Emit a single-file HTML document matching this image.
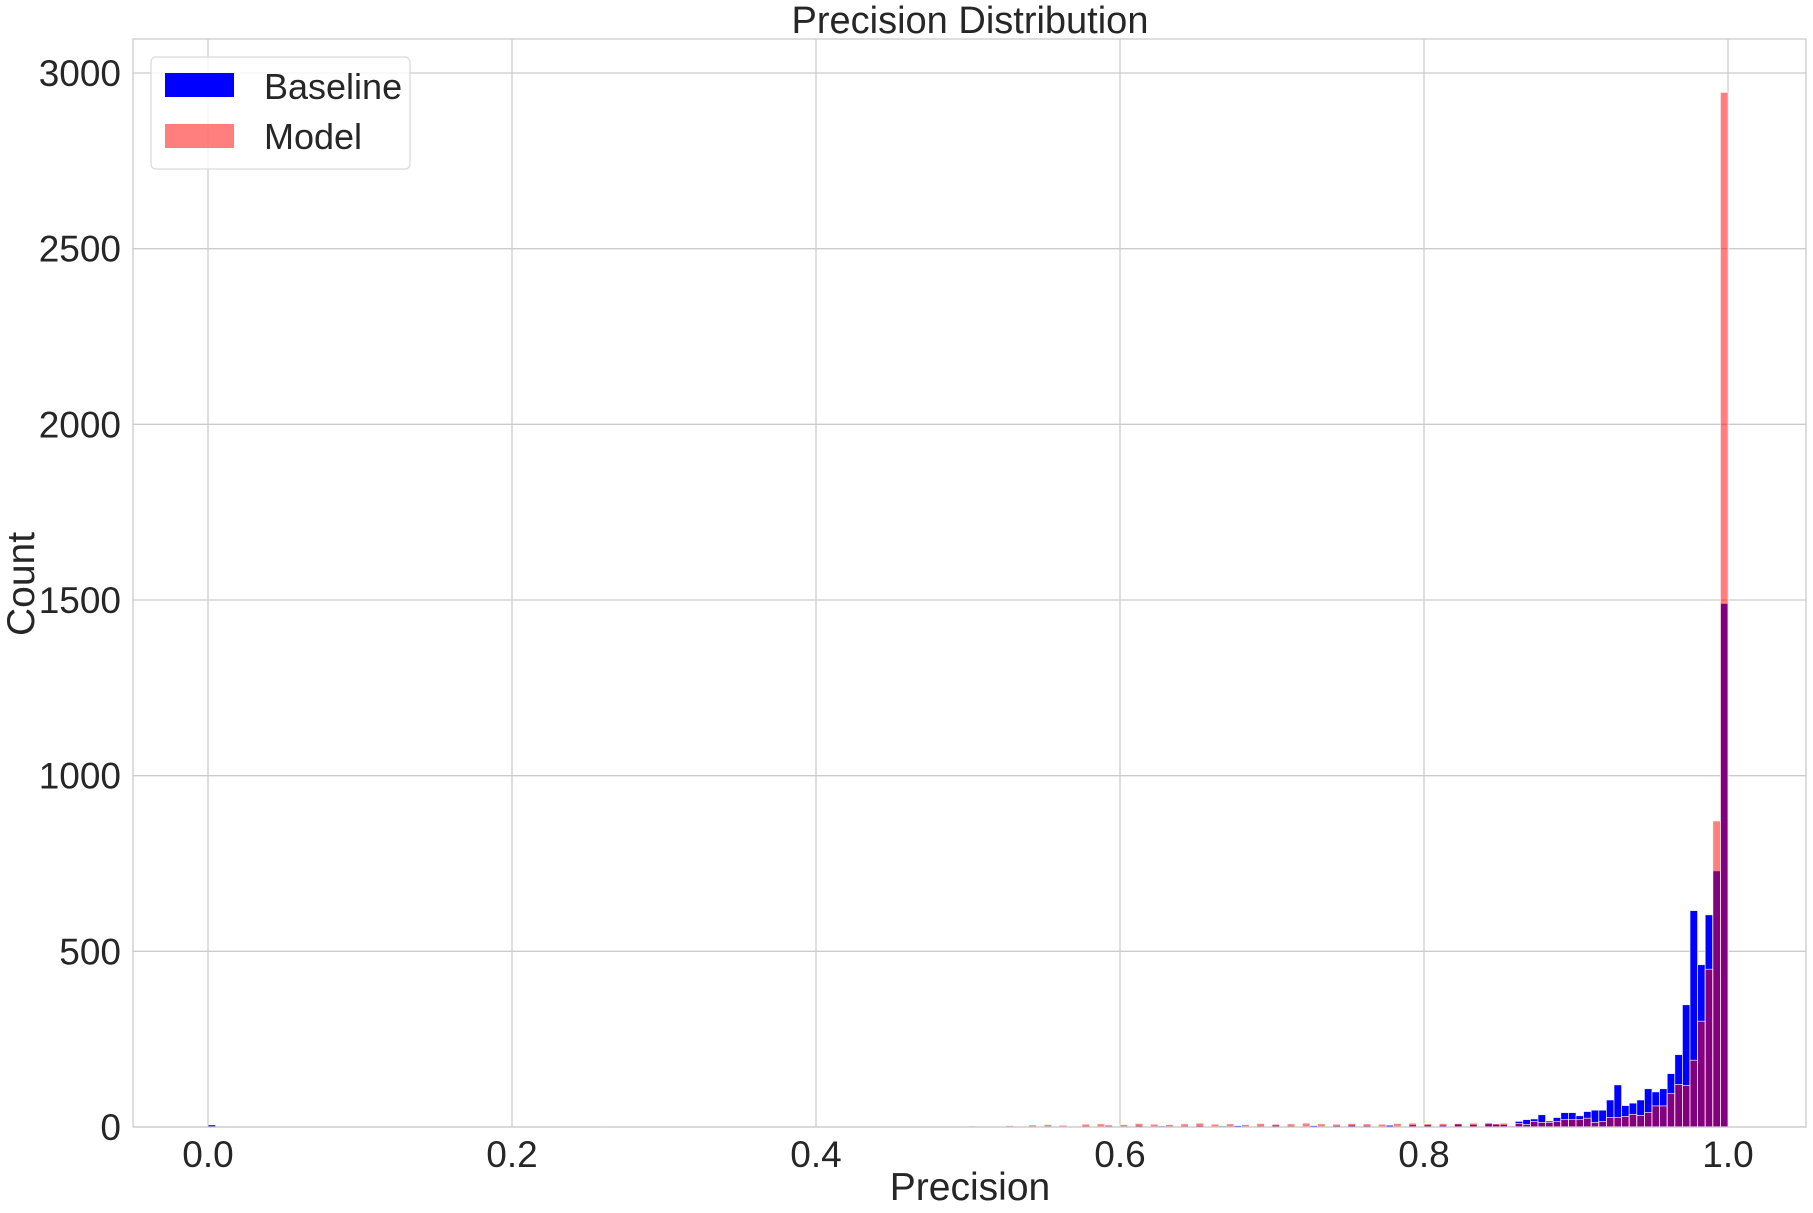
<!DOCTYPE html>
<html><head><meta charset="utf-8"><style>
html,body{margin:0;padding:0;background:#fff;}
svg{display:block;font-family:"Liberation Sans",Arial,sans-serif;}
</style></head><body>
<svg id="chart" width="1813" height="1213" xmlns="http://www.w3.org/2000/svg">
<rect x="0" y="0" width="1813" height="1213" fill="#fff"/>
<g id="grid"></g>
<g id="bars"></g>
<rect x="133" y="39" width="1673" height="1088" fill="none" stroke="#cccccc" stroke-width="1.3"/>
<g id="ticks" fill="#262626" font-size="37"></g>
<text x="970" y="33" text-anchor="middle" font-size="38" fill="#262626">Precision Distribution</text>
<text x="970" y="1200" text-anchor="middle" font-size="39" fill="#262626">Precision</text>
<text x="0" y="0" transform="translate(34,584) rotate(-90)" text-anchor="middle" font-size="39" fill="#262626">Count</text>
<g>
<rect x="151" y="57" width="259" height="112" rx="5" fill="#fff" fill-opacity="0.8" stroke="#d9d9d9" stroke-width="1.2"/>
<rect x="165" y="73" width="69" height="24" fill="#0000ff"/>
<text x="264" y="99" font-size="36" fill="#262626">Baseline</text>
<rect x="165" y="124" width="69" height="24" fill="#ff0000" fill-opacity="0.5"/>
<text x="264" y="149" font-size="36" fill="#262626">Model</text>
</g>
</svg>
<script>
// bins: 200 bins of width 0.005 from 0 to 1; arrays list counts of selected bins
const baselineBins = [0,52,100,105,110,115,118,120,122,125,128,130,133,135,138,140,142,145,148,150,152,155,158,160,162,164,166,168,169,170,171,172,173,174,175,176,177,178,179,180,181,182,183,184,185,186,187,188,189,190,191,192,193,194,195,196,197,198,199];
const baselineCounts = [6,1,1,2,2,3,3,2,4,3,3,4,3,4,3,5,3,4,4,5,4,5,6,6,5,8,7,9,8,7,3,16,21,23,35,17,27,41,41,32,44,48,48,77,120,61,68,77,109,100,109,152,206,348,616,462,604,729,1490];
const modelBins = [70,90,100,105,108,110,112,115,117,118,120,122,124,126,128,130,132,134,136,138,140,142,144,146,148,150,152,154,156,158,160,162,164,166,168,169,170,171,172,173,174,175,176,177,178,179,180,181,182,183,184,185,186,187,188,189,190,191,192,193,194,195,196,197,198,199];
const modelCounts = [1,1,3,4,6,7,5,8,9,6,7,10,8,7,9,11,8,9,7,10,8,9,11,9,8,10,9,8,10,11,9,10,10,11,12,9,11,3,10,7,16,13,13,16,21,21,21,25,13,16,27,27,30,36,33,41,60,60,95,121,118,190,301,449,871,2945];
const yTicks = [0,500,1000,1500,2000,2500,3000];
const xTicks = [0.0,0.2,0.4,0.6,0.8,1.0];
const xTickLabels = ["0.0","0.2","0.4","0.6","0.8","1.0"];
const binWidth = 0.005;

const NS = "http://www.w3.org/2000/svg";
function xS(v){ return 208 + v*1520; }
function yS(v){ return 1127 - v*(1054/3000); }
const grid = document.getElementById('grid');
const ticks = document.getElementById('ticks');
const bars = document.getElementById('bars');

yTicks.forEach(function(t){
  const l = document.createElementNS(NS,'line');
  l.setAttribute('x1',133); l.setAttribute('x2',1806);
  l.setAttribute('y1',yS(t)); l.setAttribute('y2',yS(t));
  l.setAttribute('stroke','#cccccc'); l.setAttribute('stroke-width','1.3');
  
  
  grid.appendChild(l);
  const tx = document.createElementNS(NS,'text');
  tx.setAttribute('x',121); tx.setAttribute('y',yS(t)+13);
  tx.setAttribute('text-anchor','end');
  tx.textContent = String(t);
  
  
  ticks.appendChild(tx);
});
xTicks.forEach(function(t,i){
  const l = document.createElementNS(NS,'line');
  l.setAttribute('y1',39); l.setAttribute('y2',1127);
  l.setAttribute('x1',xS(t)); l.setAttribute('x2',xS(t));
  l.setAttribute('stroke','#cccccc'); l.setAttribute('stroke-width','1.3');
  
  
  grid.appendChild(l);
  const tx = document.createElementNS(NS,'text');
  tx.setAttribute('x',xS(t)); tx.setAttribute('y',1167);
  tx.setAttribute('text-anchor','middle');
  tx.textContent = xTickLabels[i];
  
  
  ticks.appendChild(tx);
});
function drawSeries(binsArr, counts, fill, op, name){
  binsArr.forEach(function(b,i){
    const x0 = xS(b*binWidth), x1 = xS((b+1)*binWidth);
    const r = document.createElementNS(NS,'rect');
    r.setAttribute('x',x0); r.setAttribute('width',x1-x0);
    r.setAttribute('y',yS(counts[i])); r.setAttribute('height',yS(0)-yS(counts[i]));
    r.setAttribute('fill',fill); r.setAttribute('fill-opacity',op);
    r.setAttribute('stroke','#ffffff'); r.setAttribute('stroke-opacity','0.8'); r.setAttribute('stroke-width','0.8');
    
    
    bars.appendChild(r);
  });
}
drawSeries(baselineBins, baselineCounts, '#0000ff', 1, 'baseline-bar');
drawSeries(modelBins, modelCounts, '#ff0000', 0.5, 'model-bar');
</script>
</body></html>
